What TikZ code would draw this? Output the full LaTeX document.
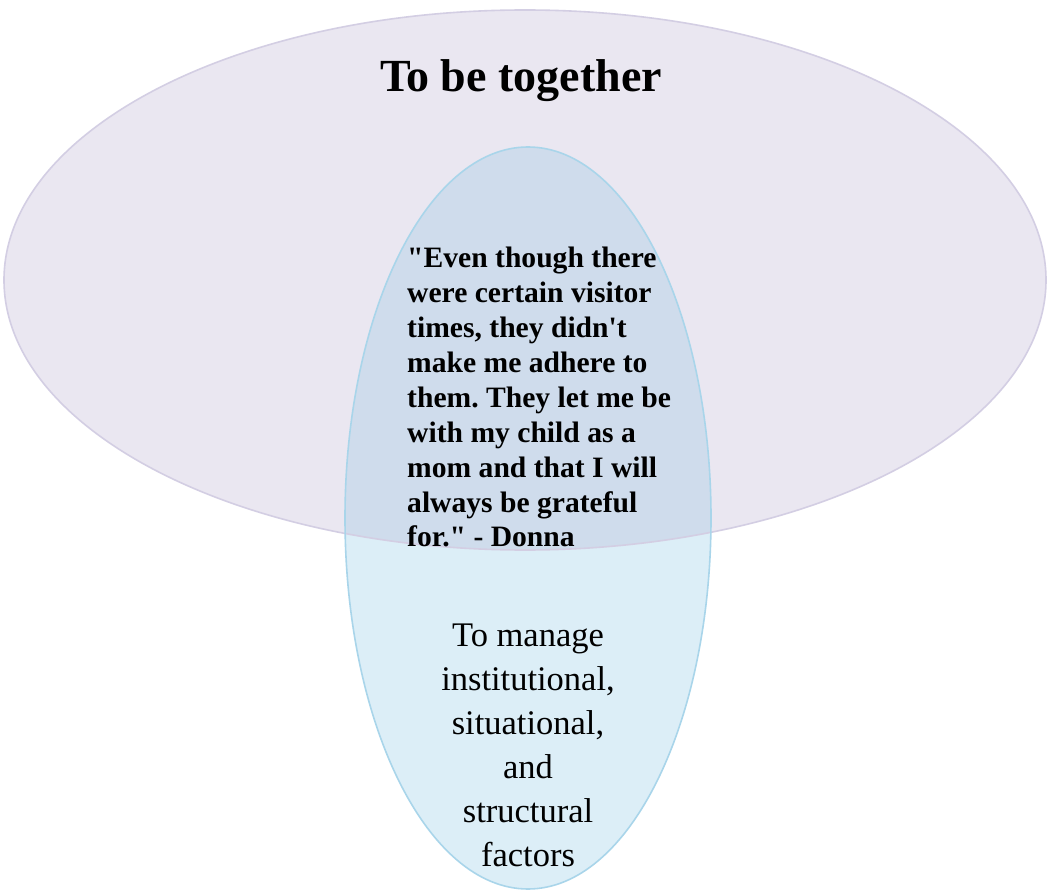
\documentclass[tikz,border=0pt]{standalone}
\usepackage{fontspec}
\setmainfont{Liberation Serif}
\frenchspacing
\definecolor{bigfill}{HTML}{EAE7F1}
\definecolor{bigline}{HTML}{D3CEE3}
\definecolor{smallfill}{HTML}{DCEEF7}
\definecolor{smallline}{HTML}{A9D5EA}
\definecolor{overlap}{HTML}{CFDCEC}
\tikzset{
  titletext/.style={font=\fontsize{46}{52}\selectfont\bfseries, inner sep=0pt},
  quotetext/.style={font=\fontsize{29.6}{34.9}\selectfont\bfseries, align=left, inner sep=0pt},
  lowertext/.style={font=\fontsize{34.5}{44}\selectfont, align=center, inner sep=0pt},
}
\begin{document}
\begin{tikzpicture}[x=1pt,y=-1pt]
\useasboundingbox (0,0) rectangle (1050,893);
\fill[white] (0,0) rectangle (1050,893);
% ellipses
\fill[bigfill] (525,280) ellipse [x radius=521, y radius=270];
\fill[smallfill] (528,518) ellipse [x radius=183, y radius=371];
\begin{scope}
  \clip (525,280) ellipse [x radius=521, y radius=270];
  \fill[overlap] (528,518) ellipse [x radius=183, y radius=371];
\end{scope}
\draw[bigline, line width=1.6pt] (525,280) ellipse [x radius=521, y radius=270];
\draw[smallline, line width=1.6pt] (528,518) ellipse [x radius=183, y radius=371];
% texts
\node[titletext, anchor=base] (title) at (521,92) {To be together};
\node[quotetext, anchor=north west] (quote) at (407,247) {\textquotedbl Even though there\\were certain visitor\\times, they didn\textquotesingle t\\make me adhere to\\them. They let me be\\with my child as a\\mom and that I will\\always be grateful\\for.\textquotedbl{} - Donna};
\node[lowertext, anchor=north] (lower) at (528,624) {To manage\\institutional,\\situational,\\and\\structural\\factors};
\end{tikzpicture}
\end{document}
